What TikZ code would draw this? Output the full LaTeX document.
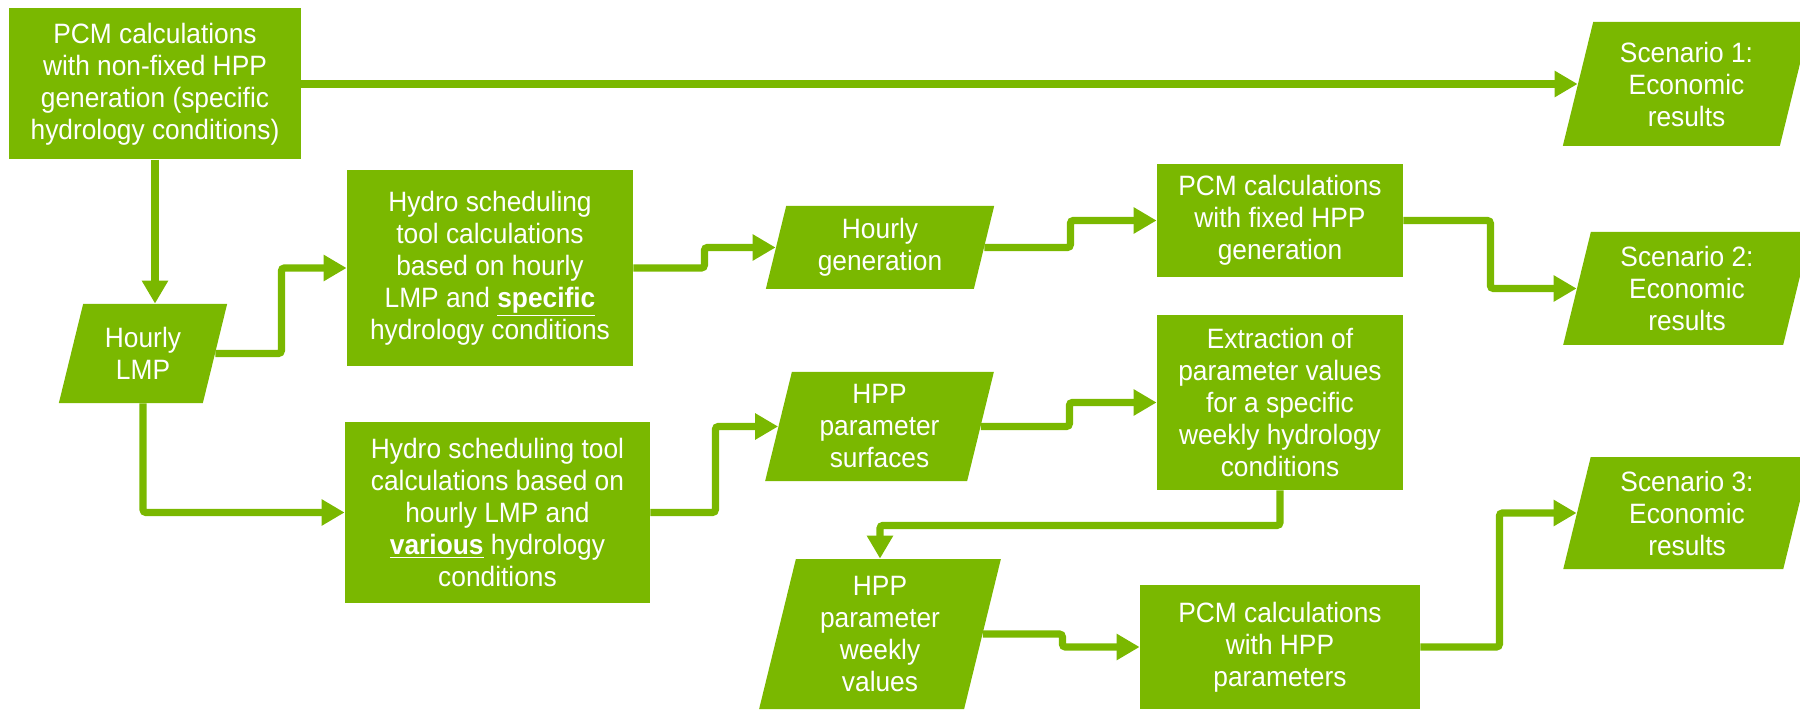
\documentclass[tikz,border=0pt]{standalone}
\usepackage{fontspec}
\setmainfont{Liberation Sans}[FakeStretch=0.94]
\usetikzlibrary{arrows.meta}
\definecolor{grn}{HTML}{7AB800}
\tikzset{
  txt/.style={text=white, align=center, font=\fontsize{14}{16}\selectfont, inner sep=0pt},
  box/.style={txt, fill=grn},
  conn/.style={draw=grn, line width=3.6pt, rounded corners=1.5pt, -{Triangle[length=11.5pt,width=12.5pt]}},
}
% name, cx, cy, mid-width, height, text  (pixel units)
\newcommand{\parabox}[6]{%
  \fill[grn] ({#2-#4/2-0.1225*#5},{#3+#5/2}) -- ({#2-#4/2+0.1225*#5},{#3-#5/2}) -- ({#2+#4/2+0.1225*#5},{#3-#5/2}) -- ({#2+#4/2-0.1225*#5},{#3+#5/2}) -- cycle;
  \node[txt, minimum width={#4*0.5pt}, minimum height={#5*0.5pt}] (#1) at (#2,#3) {#6};
}
\begin{document}
\begin{tikzpicture}[x=0.5pt,y=-0.5pt]
\useasboundingbox (0,0) rectangle (1800,711);
\clip (0,0) rectangle (1800,711);

% rectangles
\node[box, minimum width=146pt, minimum height=75.5pt] (b1) at (155,84)
  {PCM calculations\\with non-fixed HPP\\generation (specific\\hydrology conditions)};
\node[box, minimum width=143pt, minimum height=98pt] (hs1) at (490,268)
  {Hydro scheduling\\tool calculations\\based on hourly\\LMP and \underline{\textbf{specific}}\\hydrology conditions};
\node[box, minimum width=152.5pt, minimum height=90.5pt] (hs2) at (497.5,512.5)
  {Hydro scheduling tool\\calculations based on\\hourly LMP and\\\underline{\textbf{various}} hydrology\\conditions};
\node[box, minimum width=123pt, minimum height=56.5pt] (pcmf) at (1280,220.5)
  {PCM calculations\\with fixed HPP\\generation};
\node[box, minimum width=123pt, minimum height=87.5pt] (ext) at (1280,402.5)
  {Extraction of\\parameter values\\for a specific\\weekly hydrology\\conditions};
\node[box, minimum width=140pt, minimum height=62pt] (pcmp) at (1280,647)
  {PCM calculations\\with HPP\\parameters};

% parallelograms
\parabox{lmp}{143}{353.5}{144}{99}{Hourly\\LMP}
\parabox{hg}{880}{247.5}{208}{83}{Hourly\\generation}
\parabox{hps}{879.5}{426.5}{202}{109}{HPP\\parameter\\surfaces}
\parabox{hpw}{880}{634}{205}{150}{HPP\\parameter\\weekly\\values}
\parabox{s1}{1686.5}{84}{217}{124}{Scenario 1:\\Economic\\results}
\parabox{s2}{1687}{288.5}{220}{113}{Scenario 2:\\Economic\\results}
\parabox{s3}{1687}{513}{220}{112}{Scenario 3:\\Economic\\results}

% connectors
\draw[conn] (b1.east) -- (s1.west);
\draw[conn] (b1.south) -- (b1.south |- lmp.north);
\draw[conn] (lmp.east) -- ++(66,0) |- (hs1.west);
\draw[conn] (lmp.south) |- (hs2.west);
\draw[conn] (hs1.east) -- ++(71,0) |- (hg.west);
\draw[conn] (hg.east) -- ++(86,0) |- (pcmf.west);
\draw[conn] (pcmf.east) -- ++(87,0) |- (s2.west);
\draw[conn] (hs2.east) -- ++(65,0) |- (hps.west);
\draw[conn] (hps.east) -- ++(88.5,0) |- (ext.west);
\draw[conn] (ext.south) -- ++(0,35) -| (hpw.north);
\draw[conn] (hpw.east) -- ++(79.5,0) |- (pcmp.west);
\draw[conn] (pcmp.east) -- ++(79,0) |- (s3.west);
\end{tikzpicture}
\end{document}
